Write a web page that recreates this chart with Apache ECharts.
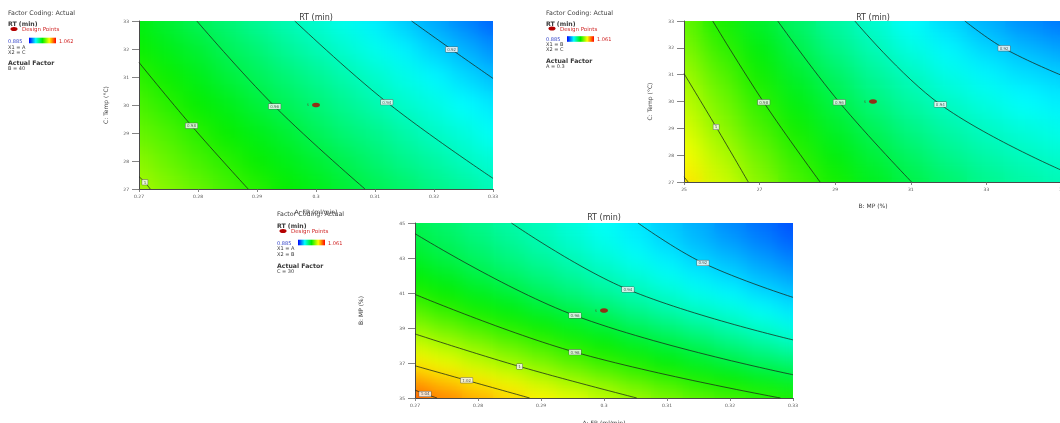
<!DOCTYPE html>
<html>
<head>
<meta charset="utf-8">
<title>RT (min) contour plots</title>
<script src="https://cdn.jsdelivr.net/npm/echarts@6.0.0/dist/echarts.min.js"></script>
<style>
  html, body { margin: 0; padding: 0; background: #ffffff; }
  #stage { position: relative; width: 1060px; height: 423px; overflow: hidden; background: #ffffff; }
  .plot-clip { position: absolute; overflow: hidden; }
  .surface { position: absolute; }
  #overlay { position: absolute; left: 0; top: 0; width: 1060px; height: 423px; }
</style>
</head>
<body>
<div id="stage"><div id="overlay"></div></div>
<script>
// ---------- RT (min) response values ----------
const rtLow = 0.885;
const rtHigh = 1.061;

// A: FR (ml/min) nodes shared by the FR axes
const frNodes = [0.27, 0.275, 0.28, 0.285, 0.29, 0.295, 0.3, 0.305, 0.31, 0.315, 0.32, 0.325, 0.33];
// C: Temp (°C) nodes
const tempNodes = [27, 28, 29, 30, 31, 32, 33];
// B: MP (%) nodes, upper right panel
const mpNodesTop = [25, 26, 27, 28, 29, 30, 31, 32, 33, 34, 35];
// B: MP (%) nodes, lower panel
const mpNodesBottom = [35, 36, 37, 38, 39, 40, 41, 42, 43, 44, 45];

// RT over A x C (B = 40), one row per temperature
const rtByFrTemp = [
  [1.002, 0.996, 0.991, 0.985, 0.980, 0.974, 0.969, 0.964, 0.959, 0.955, 0.950, 0.946, 0.941],
  [0.997, 0.991, 0.985, 0.980, 0.974, 0.969, 0.964, 0.959, 0.954, 0.949, 0.945, 0.940, 0.936],
  [0.991, 0.986, 0.980, 0.974, 0.969, 0.964, 0.958, 0.953, 0.949, 0.944, 0.939, 0.935, 0.930],
  [0.986, 0.980, 0.974, 0.969, 0.963, 0.958, 0.953, 0.948, 0.943, 0.938, 0.934, 0.929, 0.925],
  [0.981, 0.975, 0.969, 0.963, 0.958, 0.953, 0.948, 0.943, 0.938, 0.933, 0.928, 0.923, 0.918],
  [0.975, 0.969, 0.964, 0.958, 0.953, 0.947, 0.942, 0.937, 0.932, 0.927, 0.921, 0.916, 0.910],
  [0.970, 0.964, 0.958, 0.953, 0.947, 0.942, 0.937, 0.932, 0.926, 0.920, 0.914, 0.908, 0.902]
];

// RT over B x C (A = 0.3), one row per temperature
const rtByMpTemp = [
  [1.022, 1.009, 0.997, 0.986, 0.977, 0.968, 0.961, 0.955, 0.949, 0.945, 0.942],
  [1.016, 1.004, 0.992, 0.981, 0.971, 0.963, 0.956, 0.949, 0.944, 0.940, 0.937],
  [1.011, 0.998, 0.986, 0.976, 0.966, 0.958, 0.950, 0.944, 0.939, 0.935, 0.932],
  [1.006, 0.993, 0.981, 0.970, 0.961, 0.952, 0.945, 0.939, 0.934, 0.929, 0.926],
  [1.001, 0.988, 0.976, 0.965, 0.956, 0.947, 0.940, 0.933, 0.928, 0.924, 0.921],
  [0.995, 0.982, 0.971, 0.960, 0.950, 0.942, 0.934, 0.928, 0.922, 0.917, 0.913],
  [0.990, 0.977, 0.965, 0.955, 0.945, 0.937, 0.929, 0.922, 0.915, 0.909, 0.905]
];

// RT over A x B (C = 30), one row per MP level
const rtByFrMp = [
  [1.045, 1.039, 1.032, 1.025, 1.019, 1.013, 1.007, 1.001, 0.995, 0.990, 0.986, 0.982, 0.978],
  [1.033, 1.026, 1.020, 1.014, 1.007, 1.001, 0.995, 0.989, 0.984, 0.978, 0.974, 0.969, 0.965],
  [1.020, 1.014, 1.007, 1.001, 0.995, 0.989, 0.983, 0.978, 0.972, 0.967, 0.962, 0.957, 0.953],
  [1.009, 1.003, 0.997, 0.991, 0.985, 0.979, 0.974, 0.968, 0.963, 0.958, 0.952, 0.947, 0.942],
  [0.998, 0.992, 0.986, 0.980, 0.975, 0.969, 0.964, 0.958, 0.953, 0.948, 0.943, 0.938, 0.933],
  [0.988, 0.982, 0.976, 0.971, 0.965, 0.960, 0.955, 0.949, 0.944, 0.939, 0.935, 0.930, 0.925],
  [0.979, 0.974, 0.968, 0.963, 0.957, 0.952, 0.947, 0.942, 0.937, 0.932, 0.928, 0.923, 0.919],
  [0.972, 0.967, 0.961, 0.956, 0.951, 0.946, 0.941, 0.936, 0.931, 0.926, 0.922, 0.917, 0.913],
  [0.966, 0.961, 0.956, 0.951, 0.946, 0.941, 0.936, 0.931, 0.926, 0.921, 0.917, 0.912, 0.907],
  [0.962, 0.957, 0.952, 0.947, 0.942, 0.937, 0.932, 0.927, 0.922, 0.917, 0.912, 0.907, 0.902],
  [0.959, 0.954, 0.949, 0.944, 0.940, 0.935, 0.930, 0.925, 0.920, 0.915, 0.909, 0.904, 0.899]
];

// ---------- tick labels ----------
const frTicks = [0.27, 0.28, 0.29, 0.3, 0.31, 0.32, 0.33];
const tempTicks = [27, 28, 29, 30, 31, 32, 33];
const mpTicksTop = [25, 27, 29, 31, 33, 35];
const mpTicksBottom = [35, 37, 39, 41, 43, 45];

// ---------- contour lines: [level, path] ----------
const contoursFrTemp = [
  [0.92, [[0.3162, 33], [0.323, 31.98], [0.33, 30.95]]],
  [0.94, [[0.2964, 33], [0.312, 30.1], [0.33, 27.38]]],
  [0.96, [[0.2798, 33], [0.293, 29.95], [0.3083, 27]]],
  [0.98, [[0.27, 31.52], [0.2789, 29.26], [0.2885, 27]]],
  [1, [[0.27, 27.44], [0.271, 27.24], [0.2719, 27]]]
];
const contoursMpTemp = [
  [0.92, [[32.43, 33], [33.47, 31.98], [35, 30.97]]],
  [0.94, [[29.52, 33], [31.78, 29.89], [35, 27.43]]],
  [0.96, [[27.48, 33], [29.11, 29.97], [31.02, 27]]],
  [0.98, [[25.76, 33], [27.11, 29.97], [28.6, 27]]],
  [1, [[25, 31.04], [25.85, 29.05], [26.7, 27]]],
  [1.02, [[25, 27.19], [25.11, 27]]]
];
const contoursFrMp = [
  [0.92, [[0.3054, 45], [0.3157, 42.72], [0.33, 40.75]]],
  [0.94, [[0.2853, 45], [0.3038, 41.2], [0.33, 38.32]]],
  [0.96, [[0.27, 44.39], [0.2954, 39.71], [0.33, 36.33]]],
  [0.98, [[0.27, 40.92], [0.2954, 37.62], [0.328, 35]]],
  [1, [[0.27, 38.66], [0.2866, 36.8], [0.3052, 35]]],
  [1.02, [[0.27, 36.84], [0.2782, 36.01], [0.2882, 35]]],
  [1.04, [[0.27, 35.45], [0.2716, 35.23], [0.2735, 35]]]
];

// contour label anchors: [x, y, level]
const labelsFrTemp = [[0.323, 31.98, 0.92], [0.312, 30.1, 0.94], [0.293, 29.95, 0.96], [0.2789, 29.26, 0.98], [0.271, 27.24, 1]];
const labelsMpTemp = [[33.47, 31.98, 0.92], [31.78, 29.89, 0.94], [29.11, 29.97, 0.96], [27.11, 29.97, 0.98], [25.85, 29.05, 1]];
const labelsFrMp = [[0.3157, 42.72, 0.92], [0.3038, 41.2, 0.94], [0.2954, 39.71, 0.96], [0.2954, 37.62, 0.98], [0.2866, 36.8, 1], [0.2782, 36.01, 1.02], [0.2716, 35.23, 1.04]];

// centre design points and their replicate count
const centreFrTemp = [0.3, 30];
const centreMpTemp = [30, 30];
const centreFrMp = [0.3, 40];
const centreRuns = 5;

// ---------- styling and layout ----------
const palette = ['#0000ff', '#00ffff', '#00ee00', '#ffff00', '#ff0000'];
const FONT = 'DejaVu Sans, Verdana, sans-serif';
const TEXT = '#3a3a3a';

const panels = [
  { left: 139, top: 21, width: 354, height: 168, xNodes: frNodes, yNodes: tempNodes, values: rtByFrTemp, blur: 11,
    xMin: 0.27, xMax: 0.33, xTicks: frTicks, xName: 'A: FR (ml/min)', xGap: 19,
    yMin: 27, yMax: 33, yTicks: tempTicks, yName: 'C: Temp (°C)', yGap: 31,
    contours: contoursFrTemp, labels: labelsFrTemp, centre: centreFrTemp, titleY: 17 },
  { left: 684, top: 21, width: 378, height: 161, xNodes: mpNodesTop, yNodes: tempNodes, values: rtByMpTemp, blur: 13,
    xMin: 25, xMax: 35, xTicks: mpTicksTop, xName: 'B: MP (%)', xGap: 20,
    yMin: 27, yMax: 33, yTicks: tempTicks, yName: 'C: Temp (°C)', yGap: 32,
    contours: contoursMpTemp, labels: labelsMpTemp, centre: centreMpTemp, titleY: 17 },
  { left: 415, top: 223, width: 378, height: 175, xNodes: frNodes, yNodes: mpNodesBottom, values: rtByFrMp, blur: 10,
    xMin: 0.27, xMax: 0.33, xTicks: frTicks, xName: 'A: FR (ml/min)', xGap: 21,
    yMin: 35, yMax: 45, yTicks: mpTicksBottom, yName: 'B: MP (%)', yGap: 52,
    contours: contoursFrMp, labels: labelsFrMp, centre: centreFrMp, titleY: 217 }
];

// ---------- colour surfaces (sharp base + softened copy on top) ----------
function surfaceOption(p) {
  const data = [];
  p.values.forEach((row, yi) => row.forEach((v, xi) => data.push([xi, yi, v])));
  return {
    animation: false,
    grid: { left: 0, right: 0, top: 0, bottom: 0, containLabel: false, outerBoundsMode: 'none' },
    xAxis: { type: 'category', data: p.xNodes.map(String), show: false },
    yAxis: { type: 'category', data: p.yNodes.map(String), show: false },
    visualMap: { show: false, min: rtLow, max: rtHigh, inRange: { color: palette } },
    series: [{ type: 'heatmap', data: data, silent: true, itemStyle: { borderWidth: 0 } }]
  };
}

const stage = document.getElementById('stage');
const overlayEl = document.getElementById('overlay');
panels.forEach(p => {
  const clip = document.createElement('div');
  clip.className = 'plot-clip';
  clip.style.left = p.left + 'px';
  clip.style.top = p.top + 'px';
  clip.style.width = p.width + 'px';
  clip.style.height = p.height + 'px';
  stage.insertBefore(clip, overlayEl);
  const nx = p.xNodes.length, ny = p.yNodes.length;
  const cw = p.width / (nx - 1), ch = p.height / (ny - 1);
  [0, p.blur].forEach(blur => {
    const el = document.createElement('div');
    el.className = 'surface';
    el.style.left = (-cw / 2) + 'px';
    el.style.top = (-ch / 2) + 'px';
    el.style.width = Math.round(cw * nx) + 'px';
    el.style.height = Math.round(ch * ny) + 'px';
    if (blur) el.style.filter = 'blur(' + blur + 'px)';
    clip.appendChild(el);
    echarts.init(el, null, { renderer: 'canvas' }).setOption(surfaceOption(p));
  });
});

// ---------- axes, contours, labels, legends ----------
function axis(min, max, ticks, name, gap, isY) {
  return {
    type: 'value', min: min, max: max,
    name: name, nameLocation: 'middle', nameGap: gap, nameRotate: isY ? 90 : 0,
    nameTextStyle: { fontSize: 6, color: TEXT, fontFamily: FONT },
    axisLine: { show: true, onZero: false, lineStyle: { color: '#4a4a4a', width: 1 } },
    axisTick: { show: true, customValues: ticks, length: isY ? 7 : 3, lineStyle: { color: '#666', width: 0.8 } },
    axisLabel: { show: true, customValues: ticks, fontSize: 4.5, color: '#555', fontFamily: FONT, margin: isY ? 10 : 5 },
    splitLine: { show: false }
  };
}

const grids = [], xAxes = [], yAxes = [], series = [];
panels.forEach((p, i) => {
  grids.push({ left: p.left, top: p.top, width: p.width, height: p.height, containLabel: false, outerBoundsMode: 'none' });
  xAxes.push(Object.assign(axis(p.xMin, p.xMax, p.xTicks, p.xName, p.xGap, false), { gridIndex: i }));
  yAxes.push(Object.assign(axis(p.yMin, p.yMax, p.yTicks, p.yName, p.yGap, true), { gridIndex: i }));
  p.contours.forEach(c => series.push({
    type: 'line', xAxisIndex: i, yAxisIndex: i, data: c[1], smooth: 0.4, symbol: 'none', silent: true, z: 2,
    lineStyle: { color: '#1a281a', width: 0.9, opacity: 0.85 }
  }));
  series.push({
    type: 'scatter', xAxisIndex: i, yAxisIndex: i, data: p.labels, symbolSize: 0, silent: true, z: 3,
    label: {
      show: true, position: 'inside', formatter: d => String(d.value[2]),
      fontSize: 4, color: '#333', fontFamily: FONT,
      backgroundColor: '#ffffff', borderColor: '#555', borderWidth: 0.5, padding: [0.5, 1.5]
    }
  });
  series.push({
    type: 'scatter', xAxisIndex: i, yAxisIndex: i, data: [p.centre], symbol: 'circle', symbolSize: [8, 4.5],
    silent: true, z: 4, itemStyle: { color: '#b40000' },
    label: { show: true, position: 'left', distance: 3, formatter: String(centreRuns), fontSize: 3, color: '#7a0000', fontFamily: FONT }
  });
});

function txt(x, y, s, opts) {
  return { type: 'text', x: x, y: y, silent: true, style: Object.assign({
    text: s, fontSize: 5.5, fontFamily: FONT, fill: TEXT, verticalAlign: 'middle', align: 'left'
  }, opts || {}) };
}

function legendBlock(x, rows, factorLines, highText) {
  return [
    txt(x, rows[0], 'Factor Coding: Actual', { fontSize: 6.3 }),
    txt(x, rows[1], 'RT (min)', { fontWeight: 'bold', fontSize: 6.2 }),
    { type: 'ellipse', silent: true, shape: { cx: x + 6, cy: rows[2], rx: 3.6, ry: 2.1 }, style: { fill: '#b40000' } },
    txt(x + 14, rows[2], 'Design Points', { fill: '#d02828' }),
    txt(x, rows[3], rtLow.toFixed(3), { fill: '#3040c8', fontSize: 5 }),
    { type: 'rect', silent: true, shape: { x: x + 21, y: rows[3] - 2.8, width: 27, height: 5.6 },
      style: { fill: new echarts.graphic.LinearGradient(0, 0, 1, 0, palette.map((c, k) => ({ offset: k / (palette.length - 1), color: c }))) } },
    txt(x + 51, rows[3], highText, { fill: '#d02020', fontSize: 5 }),
    txt(x, rows[4], factorLines[0], { fontSize: 5 }),
    txt(x, rows[5], factorLines[1], { fontSize: 5 }),
    txt(x, rows[6], 'Actual Factor', { fontWeight: 'bold', fontSize: 6.2 }),
    txt(x, rows[7], factorLines[2], { fontSize: 5 })
  ];
}

const graphics = []
  .concat(legendBlock(8, [12.5, 23.5, 29, 40.5, 46.5, 51.5, 62, 68], ['X1 = A', 'X2 = C', 'B = 40'], '1.062'))
  .concat(legendBlock(546, [12.5, 23.3, 28.5, 39, 44, 49.3, 60.5, 66], ['X1 = B', 'X2 = C', 'A = 0.3'], rtHigh.toFixed(3)))
  .concat(legendBlock(277, [213, 225, 231, 242.5, 248, 253.5, 265.5, 271], ['X1 = A', 'X2 = B', 'C = 30'], rtHigh.toFixed(3)));
panels.forEach(p => graphics.push(txt(p.left + p.width / 2, p.titleY, 'RT (min)', { fontSize: 8, align: 'center' })));

const overlay = echarts.init(overlayEl, null, { renderer: 'svg' });
overlay.setOption({
  animation: false,
  backgroundColor: 'transparent',
  grid: grids,
  xAxis: xAxes,
  yAxis: yAxes,
  series: series,
  graphic: { elements: graphics }
});
</script>
</body>
</html>
